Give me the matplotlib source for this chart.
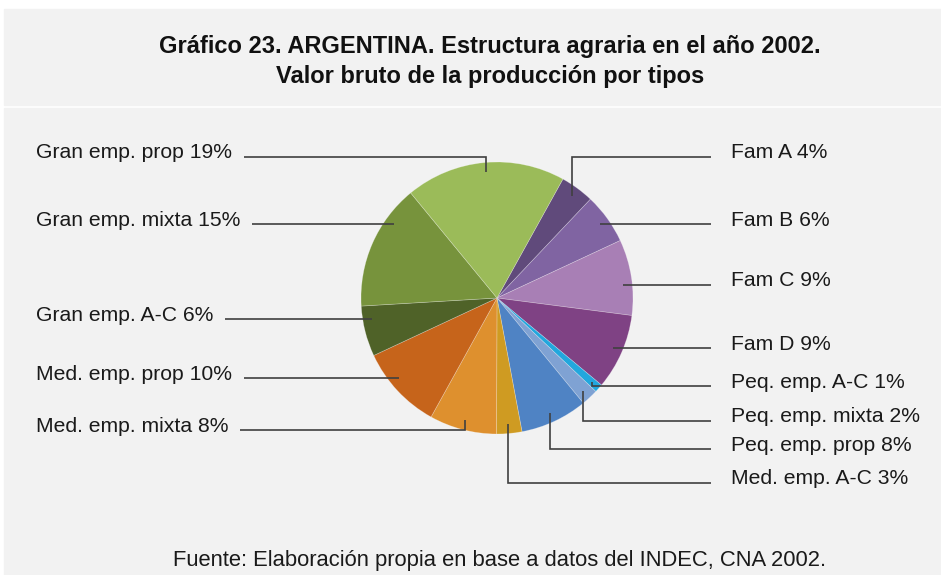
"""
Gráfico 23 - Argentina, estructura agraria 2002.
Pie chart of gross production value by farm type, with Excel-style leader lines.
"""

import numpy as np
import matplotlib

matplotlib.use("Agg")
import matplotlib.pyplot as plt
from matplotlib.patches import Rectangle

plt.rcParams["font.family"] = ["Liberation Sans", "DejaVu Sans"]

# ── data ────────────────────────────────────────────────────────────
categories = [
    "Fam A", "Fam B", "Fam C", "Fam D",
    "Peq. emp. A-C", "Peq. emp. mixta", "Peq. emp. prop",
    "Med. emp. A-C", "Med. emp. mixta", "Med. emp. prop",
    "Gran emp. A-C", "Gran emp. mixta", "Gran emp. prop",
]
shares = [4, 6, 9, 9, 1, 2, 8, 3, 8, 10, 6, 15, 19]

colors = [
    "#604a7b", "#8064a2", "#a87fb5", "#7f4284",
    "#22a7dd", "#7fa2d3", "#4f83c4",
    "#cf9b22", "#de902e", "#c6641b",
    "#4f6228", "#77933c", "#9bbb59",
]

title_lines = [
    "Gráfico 23. ARGENTINA. Estructura agraria en el año 2002.",
    "Valor bruto de la producción por tipos",
]
source = "Fuente: Elaboración propia en base a datos del INDEC, CNA 2002."

# ── layout (pixels, measured from the top-left of the picture) ──────
W, H = 941, 575
label_side = ["R"] * 8 + ["L"] * 5
label_y = [156.7, 224, 284.7, 348, 386, 421, 449.3, 482.7,
           430, 378.3, 319.3, 224, 156.7]
pie_cx, pie_cy, pie_r = 497, 298, 136
first_slice_deg = 29          # clockwise from 12 o'clock
right_text_x, right_line_end = 731, 711
left_text_x, left_gap = 36, 12
line_color = "#404040"
text_color = "#1a1a1a"
panel_color = "#f2f2f2"


def py(y):
    """Pixel row (from top) to data y (from bottom)."""
    return H - y


def in_wedge(ang, t1, t2):
    return (ang - t1) % 360 <= (t2 - t1)


def main():
    fig = plt.figure(figsize=(W / 100, H / 100), dpi=100)
    fig.patch.set_facecolor("white")
    ax = fig.add_axes([0, 0, 1, 1])

    # background panels
    ax.add_patch(Rectangle((4, py(105)), W - 4, 96, color=panel_color, zorder=0))
    ax.add_patch(Rectangle((4, 0), W - 4, py(108), color=panel_color, zorder=0))

    wedges, _ = ax.pie(
        shares,
        colors=colors,
        startangle=90 - first_slice_deg,
        counterclock=False,
        center=(pie_cx, py(pie_cy)),
        radius=pie_r,
        wedgeprops=dict(linewidth=0.5, edgecolor=(1, 1, 1, 0.3)),
    )
    ax.set_xlim(0, W)
    ax.set_ylim(0, H)
    ax.set_aspect("auto")
    ax.axis("off")

    # labels
    texts = []
    for name, val, side, ly in zip(categories, shares, label_side, label_y):
        x = right_text_x if side == "R" else left_text_x
        t = ax.text(x, py(ly + 1.5), f"{name} {val}%", ha="left",
                    va="baseline", fontsize=15.2, color=text_color)
        texts.append(t)

    fig.canvas.draw()
    renderer = fig.canvas.get_renderer()
    inv = ax.transData.inverted()

    # leader lines
    anchor_r = 0.93 * pie_r
    cy = py(pie_cy)
    for w, side, ly, t in zip(wedges, label_side, label_y, texts):
        t1, t2 = w.theta1, w.theta2
        mid = np.deg2rad((t1 + t2) / 2)
        ax_x = pie_cx + anchor_r * np.cos(mid)
        ax_y = cy + anchor_r * np.sin(mid)
        yl = py(ly)
        if side == "R":
            x_start = right_line_end
        else:
            bb = t.get_window_extent(renderer)
            x_start = inv.transform((bb.x1, 0))[0] + left_gap

        dy = yl - cy
        straight = False
        if abs(dy) < anchor_r:
            dx = np.sqrt(anchor_r ** 2 - dy ** 2)
            hx = pie_cx + dx if side == "R" else pie_cx - dx
            ang = np.degrees(np.arctan2(dy, hx - pie_cx))
            if in_wedge(ang, t1, t2):
                straight = True
        if straight:
            ax.plot([x_start, hx], [yl, yl], color=line_color, lw=1.2,
                    solid_capstyle="butt")
        else:
            ax.plot([x_start, ax_x, ax_x], [yl, yl, ax_y], color=line_color,
                    lw=1.2, solid_capstyle="butt", solid_joinstyle="miter")

    # title and source
    ax.text(490, py(47), title_lines[0], ha="center", va="center",
            fontsize=17, fontweight="bold", color="#111111")
    ax.text(490, py(76), title_lines[1], ha="center", va="center",
            fontsize=17, fontweight="bold", color="#111111")
    ax.text(500, py(566), source, ha="center", va="baseline",
            fontsize=15.8, color=text_color)

    fig.savefig("out.png", dpi=100, facecolor=fig.get_facecolor())


if __name__ == "__main__":
    main()
